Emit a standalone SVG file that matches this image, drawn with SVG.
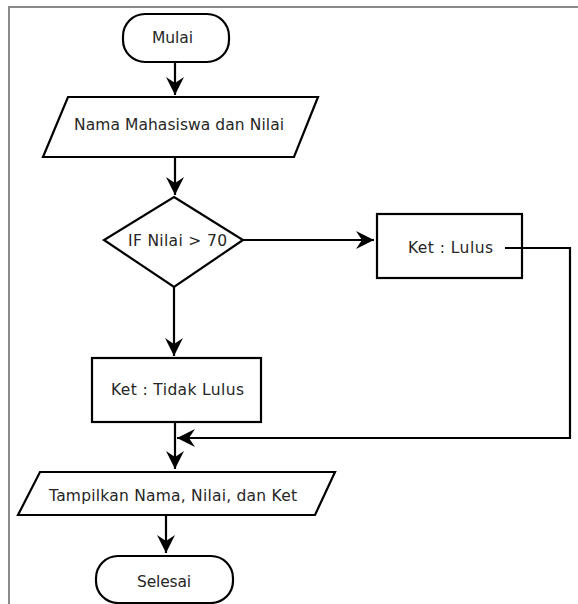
<svg xmlns="http://www.w3.org/2000/svg" width="578" height="604" viewBox="0 0 578 604">
  <style>
    .shape { fill: #ffffff; stroke: #000000; stroke-width: 2.2; }
    .wire { fill: none; stroke: #000000; stroke-width: 2.2; }
    .label { font-family: "DejaVu Sans", Verdana, sans-serif; font-size: 15.5px; fill: #262626; }
    .frame { fill: none; stroke: #8a8a8a; stroke-width: 2; }
  </style>
  <defs>
    <marker id="arrow" markerUnits="userSpaceOnUse" markerWidth="20" markerHeight="20" viewBox="-20 -10 20 20" refX="0" refY="0" orient="auto">
      <path d="M0,0 L-18,-9 L-12,0 L-18,9 Z" fill="#000000"/>
    </marker>
  </defs>

  <rect width="578" height="604" fill="#ffffff"/>
  <!-- outer frame -->
  <path class="frame" d="M9,604 V7 H578"/>

  <g id="start">
    <rect class="shape" x="123" y="14" width="106" height="48" rx="22" ry="22"/>
    <text class="label" x="152" y="43" textLength="41" lengthAdjust="spacing">Mulai</text>
  </g>

  <g id="input">
    <polygon class="shape" points="68,97 318,97 294,157 43,157"/>
    <text class="label" x="74" y="130" textLength="210" lengthAdjust="spacing">Nama Mahasiswa dan Nilai</text>
  </g>

  <g id="decision">
    <polygon class="shape" points="174,197 243,240 174,287 104,240"/>
    <text class="label" x="128" y="246" textLength="99" lengthAdjust="spacing">IF Nilai &gt; 70</text>
  </g>

  <g id="pass">
    <rect class="shape" x="377" y="214" width="145" height="64"/>
    <text class="label" x="408" y="253" textLength="85" lengthAdjust="spacing">Ket : Lulus</text>
  </g>

  <g id="fail">
    <rect class="shape" x="92" y="358" width="169" height="64"/>
    <text class="label" x="111" y="395" textLength="133" lengthAdjust="spacing">Ket : Tidak Lulus</text>
  </g>

  <g id="output">
    <polygon class="shape" points="40,472 335,472 315,515 18,515"/>
    <text class="label" x="49" y="501" textLength="248" lengthAdjust="spacing">Tampilkan Nama, Nilai, dan Ket</text>
  </g>

  <g id="end">
    <rect class="shape" x="96" y="556" width="137" height="47" rx="22" ry="22"/>
    <text class="label" x="137" y="587" textLength="54" lengthAdjust="spacing">Selesai</text>
  </g>

  <!-- connectors (drawn last so the return line shows inside the "Ket : Lulus" box) -->
  <g id="connectors">
    <line class="wire" x1="175" y1="62" x2="175" y2="95" marker-end="url(#arrow)"/>
    <line class="wire" x1="175" y1="157" x2="175" y2="195" marker-end="url(#arrow)"/>
    <line class="wire" x1="243" y1="240" x2="374" y2="240" marker-end="url(#arrow)"/>
    <line class="wire" x1="174" y1="287" x2="174" y2="356" marker-end="url(#arrow)"/>
    <polyline class="wire" points="505,248 570,248 570,438 177,438" marker-end="url(#arrow)"/>
    <line class="wire" x1="175" y1="422" x2="175" y2="469" marker-end="url(#arrow)"/>
    <line class="wire" x1="166" y1="515" x2="166" y2="553" marker-end="url(#arrow)"/>
  </g>
</svg>
